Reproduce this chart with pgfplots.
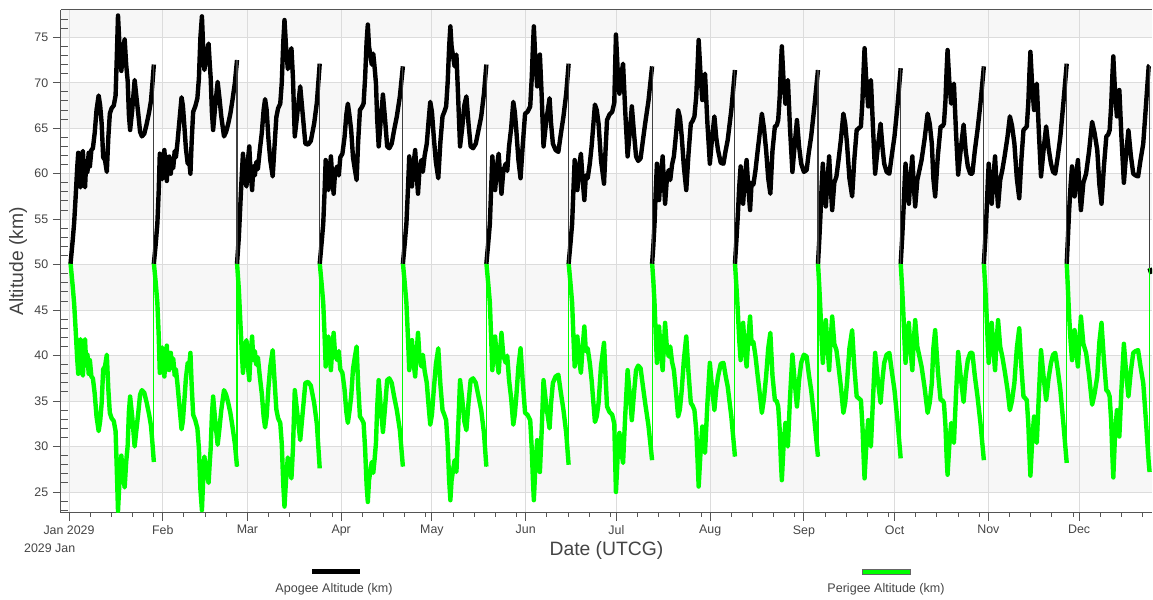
\documentclass[border=0pt]{standalone}
\usepackage{fontspec}
\setmainfont{Liberation Sans}
\usepackage{pgfplots}
\usepackage{pgfplotstable}
\pgfplotsset{compat=1.18}
\definecolor{band}{HTML}{F7F7F7}
\definecolor{gridc}{HTML}{DCDCDC}
\definecolor{axc}{HTML}{555555}
\definecolor{txt}{HTML}{444444}
\definecolor{perg}{HTML}{00FF00}

\pgfplotstableread{
day apo per
0.5 50.1 50.2
1.2 52.6 47.7
1.7 54.6 45.7
2.2 57.5 42.8
2.7 60.6 39.7
3.05 62.3 38.0
3.4 59.0 41.3
3.8 58.5 41.8
4.2 61.9 38.4
4.6 62.5 37.8
5.0 59.0 41.3
5.3 58.5 41.8
5.7 61.4 38.9
6.1 60.2 40.1
6.5 62.3 38.0
6.9 60.8 39.5
7.4 62.6 37.7
7.9 62.8 37.5
8.5 64.5 35.8
9.1 67.0 33.3
9.8 68.6 31.7
10.3 67.5 32.8
10.8 65.5 34.8
11.3 61.8 38.5
11.9 61.5 38.8
12.5 60.2 40.1
13.0 64.0 36.3
13.5 66.6 33.7
14.1 67.2 33.1
14.8 67.5 32.8
15.4 68.6 31.7
15.8 72.8 27.5
16.2 77.4 22.9
16.7 74.0 26.3
17.3 71.3 29.0
17.9 73.6 26.7
18.4 74.8 25.5
18.9 72.0 28.3
19.4 70.2 30.1
19.8 66.5 33.8
20.2 64.8 35.5
20.9 67.0 33.3
21.7 70.3 30.0
22.3 68.4 31.9
22.9 66.6 33.7
23.5 64.6 35.7
24.1 64.1 36.2
24.9 64.4 35.9
25.7 65.5 34.8
26.5 66.8 33.5
27.1 68.0 32.3
27.6 70.0 30.3
28.05 72.0 28.3
nan nan nan
28.05 50.1 50.2
28.65 52.2 48.1
29.21 54.5 45.8
29.65 58.0 42.3
30.02 62.2 38.1
30.45 60.0 40.3
30.83 59.4 40.9
31.15 61.5 38.8
31.53 62.6 37.7
31.95 60.5 39.8
32.34 59.2 41.1
32.75 61.8 38.5
33.15 61.9 38.4
33.65 60.0 40.3
34.05 61.6 38.7
34.45 60.6 39.7
34.95 62.5 37.8
35.35 61.8 38.5
35.85 63.4 36.9
36.45 65.6 34.7
37.21 68.4 31.9
37.65 67.5 32.8
38.15 65.2 35.1
38.65 62.8 37.5
39.25 61.1 39.2
39.75 61.4 38.9
40.15 60.0 40.3
40.55 63.5 36.8
41.05 66.8 33.5
41.75 67.4 32.9
42.45 68.3 32.0
42.95 70.5 29.8
43.45 75.0 25.3
43.95 77.3 23.0
44.35 74.0 26.3
44.75 71.4 28.9
45.45 73.0 27.3
46.15 74.3 26.0
46.55 72.0 28.3
46.85 70.5 29.8
47.25 66.8 33.5
47.65 64.8 35.5
48.35 67.5 32.8
49.15 70.1 30.2
49.75 68.3 32.0
50.35 66.3 34.0
51.25 64.1 36.2
51.95 64.6 35.7
52.65 65.5 34.8
53.35 66.6 33.7
54.05 68.1 32.2
54.85 70.0 30.3
55.55 72.5 27.8
nan nan nan
55.55 50.1 50.2
56.15 53.0 47.3
56.71 57.0 43.3
57.15 60.0 40.3
57.52 62.2 38.1
58.05 59.5 40.8
58.68 58.6 41.7
59.15 61.5 38.8
59.61 63.0 37.3
60.05 60.0 40.3
60.54 58.2 42.1
60.95 60.8 39.5
61.45 59.8 40.5
61.93 61.3 39.0
62.45 60.5 39.8
63.09 62.6 37.7
63.75 64.5 35.8
64.35 67.0 33.3
64.83 68.2 32.1
65.35 67.0 33.3
65.95 63.8 36.5
66.55 61.5 38.8
67.35 59.7 40.6
67.95 63.0 37.3
68.55 66.2 34.1
69.15 67.2 33.1
69.85 67.7 32.6
70.35 70.0 30.3
70.85 74.5 25.8
71.25 76.9 23.4
71.75 74.0 26.3
72.35 71.5 28.8
72.95 73.0 27.3
73.55 73.8 26.5
74.05 70.5 29.8
74.65 64.1 36.2
75.45 66.5 33.8
76.45 69.6 30.7
77.15 67.0 33.3
78.15 63.3 37.0
79.05 63.2 37.1
79.95 63.6 36.7
81.05 65.5 34.8
81.95 67.8 32.5
82.9 72.1 27.6
nan nan nan
82.9 50.1 50.2
83.5 52.3 48.0
84.06 54.5 45.8
84.5 58.0 42.3
84.87 61.5 38.8
85.3 59.5 40.8
85.8 58.2 42.1
86.2 60.5 39.8
86.6 61.9 38.4
87.0 59.8 40.5
87.5 57.8 42.5
88.0 60.3 40.0
88.7 60.8 39.5
89.2 59.8 40.5
89.7 61.8 38.5
90.4 62.2 38.1
91.1 64.0 36.3
91.7 66.5 33.8
92.2 67.7 32.6
92.7 66.5 33.8
93.3 64.8 35.5
93.9 61.8 38.5
94.5 60.5 39.8
95.1 59.3 41.0
95.6 63.5 36.8
96.2 67.0 33.3
96.8 67.3 33.0
97.4 67.7 32.6
97.9 70.5 29.8
98.4 74.5 25.8
98.8 76.4 23.9
99.2 74.0 26.3
99.7 72.9 27.4
100.1 72.0 28.3
100.6 73.2 27.1
101.1 71.5 28.8
101.5 69.9 30.4
101.9 66.0 34.3
102.4 63.0 37.3
103.1 66.0 34.3
103.8 68.7 31.6
104.5 66.0 34.3
105.2 63.0 37.3
105.9 62.8 37.5
106.7 63.3 37.0
107.5 64.8 35.5
108.4 66.3 34.0
109.4 68.5 31.8
110.4 71.8 27.8
nan nan nan
110.4 50.1 50.2
111.0 52.3 48.0
111.56 54.5 45.8
112.1 58.5 41.8
112.5 61.9 38.4
113.0 59.8 40.5
113.4 58.6 41.7
113.9 61.0 39.3
114.46 62.6 37.7
114.9 60.2 40.1
115.4 57.8 42.5
115.9 60.5 39.8
116.5 61.5 38.8
117.0 60.2 40.1
117.6 62.0 38.3
118.3 63.3 37.0
118.9 65.8 34.5
119.45 67.9 32.4
120.0 66.8 33.5
120.6 64.1 36.2
121.3 61.3 39.0
122.1 59.5 40.8
122.8 63.5 36.8
123.5 66.3 34.0
124.1 66.8 33.5
124.7 67.4 32.9
125.2 70.0 30.3
125.7 74.0 26.3
126.1 76.2 24.1
126.5 74.0 26.3
127.0 72.9 27.4
127.5 71.8 28.5
128.1 73.1 27.2
128.6 69.0 31.3
129.3 63.0 37.3
130.0 65.0 35.3
130.7 67.5 32.8
131.4 68.5 31.8
132.1 65.5 34.8
132.8 63.0 37.3
133.6 62.8 37.5
134.5 63.3 37.0
135.4 64.8 35.5
136.3 66.3 34.0
137.2 68.8 31.5
138.0 72.0 27.8
nan nan nan
138.0 50.1 50.2
138.6 52.3 48.0
139.16 54.5 45.8
139.6 58.5 41.8
139.97 61.9 38.4
140.4 59.8 40.5
140.9 58.2 42.1
141.5 60.8 39.5
142.06 62.2 38.1
142.5 60.0 40.3
143.0 57.8 42.5
143.6 60.3 40.0
144.4 61.1 39.2
144.9 60.3 40.0
145.5 63.0 37.3
146.2 65.0 35.3
146.9 67.9 32.4
147.4 66.8 33.5
147.9 64.8 35.5
148.6 61.5 38.8
149.3 59.5 40.8
150.0 63.0 37.3
150.8 66.6 33.7
151.6 66.8 33.5
152.5 67.4 32.9
153.0 70.5 29.8
153.4 74.0 26.3
153.7 76.2 24.1
154.2 72.5 27.8
154.8 69.6 30.7
155.3 71.5 28.8
155.7 73.1 27.2
156.3 68.5 31.8
156.9 63.0 37.3
157.8 65.8 34.5
158.9 68.3 32.0
159.4 65.5 34.8
160.0 63.3 37.0
160.9 62.6 37.7
161.8 62.4 37.9
162.6 64.3 36.0
163.5 66.3 34.0
164.4 68.8 31.5
165.2 72.1 28.0
nan nan nan
165.2 50.1 50.2
165.8 52.3 48.0
166.36 54.5 45.8
166.8 58.3 42.0
167.2 61.5 38.8
167.7 59.5 40.8
168.1 58.2 42.1
168.7 60.8 39.5
169.26 62.2 38.1
169.8 59.5 40.8
170.4 57.1 43.2
170.9 59.8 40.5
171.5 59.5 40.8
172.2 61.1 39.2
172.8 63.0 37.3
173.4 65.5 34.8
173.9 67.6 32.7
174.5 67.0 33.3
175.1 65.5 34.8
175.9 61.5 38.8
176.9 58.9 41.4
177.4 62.5 37.8
177.9 65.9 34.4
178.7 66.5 33.8
179.6 66.8 33.5
180.3 67.8 32.5
180.6 72.0 28.3
180.85 75.3 25.0
181.4 71.5 28.8
182.0 68.8 31.5
182.6 70.8 29.5
183.2 72.1 28.2
183.9 67.0 33.3
184.7 61.9 38.4
185.4 64.5 35.8
186.1 67.4 32.9
186.8 64.5 35.8
187.5 61.9 38.4
188.2 61.4 38.9
189.0 61.7 38.6
189.7 63.5 36.8
190.5 65.5 34.8
191.6 68.0 32.3
192.8 71.8 28.5
nan nan nan
192.8 50.1 50.2
193.2 52.0 48.3
193.6 54.5 45.8
194.0 58.0 42.3
194.4 61.1 39.2
194.8 58.8 41.5
195.1 57.1 43.2
195.7 60.0 40.3
196.3 61.9 38.4
196.7 59.0 41.3
197.1 56.7 43.6
197.7 59.5 40.8
198.3 60.4 39.9
198.8 59.3 41.0
199.4 61.0 39.3
200.0 61.9 38.4
200.7 64.3 36.0
201.4 67.0 33.3
202.0 66.2 34.1
202.6 64.1 36.2
203.3 60.8 39.5
204.1 58.2 42.1
204.8 62.0 38.3
205.6 65.5 34.8
206.2 65.8 34.5
206.8 66.3 34.0
207.4 68.5 31.8
207.8 71.5 28.8
208.2 74.7 25.6
208.8 71.0 29.3
209.4 68.1 32.2
209.8 69.8 30.5
210.3 71.0 29.3
211.1 65.5 34.8
211.9 61.1 39.2
212.6 63.8 36.5
213.4 66.3 34.0
214.0 64.0 36.3
214.6 62.6 37.7
215.5 61.2 39.1
216.4 61.1 39.2
217.1 62.5 37.8
217.8 63.7 36.6
219.0 67.0 33.3
220.2 71.4 28.9
nan nan nan
220.2 50.1 50.2
220.7 52.8 47.5
221.13 55.3 45.0
221.6 58.5 41.8
222.07 60.8 39.5
222.5 58.2 42.1
222.9 56.7 43.6
223.5 59.8 40.5
224.05 61.5 38.8
224.6 58.5 41.8
225.2 56.0 44.3
225.7 59.0 41.3
226.3 58.8 41.5
227.0 60.4 39.9
227.7 62.5 37.8
228.4 64.5 35.8
229.1 66.6 33.7
229.8 65.0 35.3
230.5 62.6 37.7
231.2 59.5 40.8
231.9 57.8 42.5
232.6 62.5 37.8
233.4 65.2 35.1
234.0 65.3 35.0
234.5 65.9 34.4
235.0 68.5 31.8
235.4 72.0 28.3
235.7 74.0 26.3
236.3 70.0 30.3
236.9 67.7 32.6
237.3 69.5 30.8
237.7 70.3 30.0
238.4 65.0 35.3
239.2 60.2 40.1
239.9 63.0 37.3
240.7 65.9 34.4
241.4 63.0 37.3
242.1 61.1 39.2
243.0 60.2 40.1
243.9 60.4 39.9
244.6 62.3 38.0
245.4 64.1 36.2
246.5 67.5 32.8
247.65 71.4 28.9
nan nan nan
247.65 50.1 50.2
248.05 52.5 47.8
248.45 55.3 45.0
248.85 58.5 41.8
249.25 61.1 39.2
249.75 58.3 42.0
250.25 56.4 43.9
250.85 59.5 40.8
251.35 61.9 38.4
251.85 58.5 41.8
252.35 56.0 44.3
253.05 59.0 41.3
253.75 59.7 40.6
254.45 61.5 38.8
255.25 63.8 36.5
256.05 66.6 33.7
256.65 65.5 34.8
257.25 63.3 37.0
258.05 59.5 40.8
258.95 57.5 42.8
259.65 61.5 38.8
260.45 64.8 35.5
261.15 65.0 35.3
261.85 65.2 35.1
262.35 68.0 32.3
262.75 71.5 28.8
263.05 73.8 26.5
263.65 70.0 30.3
264.25 67.4 32.9
264.65 69.2 31.1
265.15 70.3 30.0
265.85 65.0 35.3
266.55 60.0 40.3
267.45 63.0 37.3
268.35 65.5 34.8
268.95 63.0 37.3
269.55 61.1 39.2
270.35 60.2 40.1
271.25 60.0 40.3
272.05 62.0 38.3
272.95 64.1 36.2
273.95 67.5 32.8
275.0 71.6 28.7
nan nan nan
275.0 50.1 50.2
275.5 53.0 47.3
275.93 56.0 44.3
276.3 59.0 41.3
276.6 61.1 39.2
277.2 58.5 41.8
277.7 56.7 43.6
278.3 59.8 40.5
278.85 61.9 38.4
279.3 58.8 41.5
279.8 56.4 43.9
280.5 59.3 41.0
281.2 60.4 39.9
281.9 61.5 38.8
282.9 63.8 36.5
283.9 66.6 33.7
284.6 65.5 34.8
285.3 63.3 37.0
285.8 59.5 40.8
286.4 57.5 42.8
287.3 62.0 38.3
288.2 65.2 35.1
288.8 65.2 35.1
289.3 65.5 34.8
289.8 68.0 32.3
290.2 71.5 28.8
290.5 73.6 26.9
291.1 70.0 30.3
291.7 67.7 32.6
292.1 69.0 31.3
292.6 69.9 30.4
293.3 64.5 35.8
294.0 59.9 40.4
294.9 62.8 37.5
295.8 65.4 34.9
296.5 62.5 37.8
297.2 60.8 39.5
298.0 60.0 40.3
298.7 60.0 40.3
299.5 62.5 37.8
300.4 64.8 35.5
301.4 67.8 32.5
302.5 71.8 28.5
nan nan nan
302.5 50.1 50.2
303.0 53.0 47.3
303.43 56.0 44.3
303.8 59.0 41.3
304.1 61.1 39.2
304.6 58.5 41.8
305.1 56.7 43.6
305.7 59.8 40.5
306.2 61.9 38.4
306.7 58.8 41.5
307.2 56.4 43.9
307.9 59.3 41.0
308.6 60.4 39.9
309.4 62.0 38.3
310.3 64.0 36.3
311.1 66.3 34.0
311.8 65.3 35.0
312.6 63.3 37.0
313.4 59.5 40.8
314.2 57.3 43.0
314.9 61.5 38.8
315.6 64.8 35.5
316.2 65.0 35.3
316.7 65.2 35.1
317.2 67.8 32.5
317.6 71.3 29.0
317.9 73.4 26.8
318.5 69.5 30.8
319.1 67.0 33.3
319.5 68.8 31.5
320.0 69.9 30.4
320.7 64.5 35.8
321.4 59.7 40.6
322.3 62.8 37.5
323.1 65.2 35.1
323.9 62.8 37.5
324.7 61.1 39.2
325.4 60.2 40.1
326.1 60.0 40.3
327.0 62.0 38.3
327.8 64.1 36.2
328.8 67.8 32.5
329.9 72.1 28.2
nan nan nan
329.9 50.1 50.2
330.3 53.0 47.3
330.7 56.0 44.3
331.2 58.8 41.5
331.65 60.8 39.5
332.1 58.8 41.5
332.5 57.5 42.8
333.1 60.0 40.3
333.6 61.5 38.8
334.1 58.5 41.8
334.6 56.0 44.3
335.4 59.0 41.3
336.3 60.0 40.3
337.3 62.5 37.8
338.3 65.7 34.6
339.1 64.5 35.8
340.0 62.6 37.7
340.7 58.8 41.5
341.4 56.7 43.6
342.2 60.8 39.5
343.0 64.1 36.2
343.6 64.3 36.0
344.1 64.8 35.5
344.6 67.5 32.8
345.0 70.8 29.0
345.3 72.9 26.6
345.9 68.8 31.5
346.5 66.3 34.0
346.9 68.2 32.1
347.3 69.2 31.1
348.0 64.0 36.3
348.8 59.0 41.3
349.5 62.0 38.3
350.3 64.8 35.5
351.1 62.0 38.3
351.9 60.0 40.3
352.7 59.8 40.5
353.5 59.7 40.6
354.3 61.5 38.8
355.2 63.3 37.0
356.1 67.5 32.8
357.0 71.8 28.3
357.3 71.9 27.2
nan nan nan
357.3 49.6 49.6
357.9 49.0 49.0
}\orbit

\begin{document}
\begin{tikzpicture}
\begin{axis}[
  set layers,
  at={(0pt,0pt)}, anchor=south west,
  scale only axis, width=818.25pt, height=377pt,
  xmin=-2.65, xmax=358.1, ymin=22.73, ymax=78.0,
  axis x line*=bottom, axis y line*=left,
  axis line style={draw=axc, line width=0.75pt},
  xtick={0,31,59,90,120,151,181,212,243,273,304,334},
  xticklabels={Jan 2029,Feb,Mar,Apr,May,Jun,Jul,Aug,Sep,Oct,Nov,Dec},
  ytick={25,30,...,75},
  tick align=outside, major tick length=6pt,
  tick style={draw=axc, line width=0.75pt},
  extra x ticks={7,14,21,28,38,45,52,66,73,80,87,97,104,111,118,127,134,141,148,158,165,172,179,188,195,202,209,219,226,233,240,250,257,264,271,280,287,294,301,311,318,325,332,341,348,355},
  extra x tick labels={},
  extra x tick style={grid=none, tick align=outside, major tick length=3pt},
  extra y ticks={23,24,26,27,28,29,31,32,33,34,36,37,38,39,41,42,43,44,46,47,48,49,51,52,53,54,56,57,58,59,61,62,63,64,66,67,68,69,71,72,73,74,76,77},
  extra y tick labels={},
  extra y tick style={grid=none, tick align=inside, major tick length=5.5pt},
  grid=major, major grid style={draw=gridc, line width=0.75pt},
  ticklabel style={font=\fontsize{9.3}{10}\selectfont, text=txt},
  /pgf/number format/assume math mode=true,
  unbounded coords=jump,
]
\begin{pgfonlayer}{axis background}
\fill[band] (axis cs:-2.65,25) rectangle (axis cs:358.1,30);
\fill[band] (axis cs:-2.65,35) rectangle (axis cs:358.1,40);
\fill[band] (axis cs:-2.65,45) rectangle (axis cs:358.1,50);
\fill[band] (axis cs:-2.65,55) rectangle (axis cs:358.1,60);
\fill[band] (axis cs:-2.65,65) rectangle (axis cs:358.1,70);
\fill[band] (axis cs:-2.65,75) rectangle (axis cs:358.1,78);
\end{pgfonlayer}
\addplot[perg, line width=3.3pt, line join=round] table[x=day, y=per] {\orbit};
\addplot[black, line width=3.3pt, line join=round] table[x=day, y=apo] {\orbit};
\addplot[perg, line width=0.8pt] coordinates {
(28.05,28.3)(28.05,50.2)(28.05,nan)
(55.55,27.8)(55.55,50.2)(55.55,nan)
(82.9,27.6)(82.9,50.2)(82.9,nan)
(110.4,27.8)(110.4,50.2)(110.4,nan)
(138.0,27.8)(138.0,50.2)(138.0,nan)
(165.2,28.0)(165.2,50.2)(165.2,nan)
(192.8,28.5)(192.8,50.2)(192.8,nan)
(220.2,28.9)(220.2,50.2)(220.2,nan)
(247.65,28.9)(247.65,50.2)(247.65,nan)
(275.0,28.7)(275.0,50.2)(275.0,nan)
(302.5,28.5)(302.5,50.2)(302.5,nan)
(329.9,28.2)(329.9,50.2)(329.9,nan)
(357.3,27.2)(357.3,49.6)};
\addplot[black!75, line width=0.8pt] coordinates {
(28.05,72.0)(28.05,50.1)(28.05,nan)
(55.55,72.5)(55.55,50.1)(55.55,nan)
(82.9,72.1)(82.9,50.1)(82.9,nan)
(110.4,71.8)(110.4,50.1)(110.4,nan)
(138.0,72.0)(138.0,50.1)(138.0,nan)
(165.2,72.1)(165.2,50.1)(165.2,nan)
(192.8,71.8)(192.8,50.1)(192.8,nan)
(220.2,71.4)(220.2,50.1)(220.2,nan)
(247.65,71.4)(247.65,50.1)(247.65,nan)
(275.0,71.6)(275.0,50.1)(275.0,nan)
(302.5,71.8)(302.5,50.1)(302.5,nan)
(329.9,72.1)(329.9,50.1)(329.9,nan)
(357.3,71.9)(357.3,49.6)};
\draw[axc, line width=0.75pt] (rel axis cs:0,1) -- (rel axis cs:1,1);
\end{axis}
\node[font=\fontsize{9.3}{10}\selectfont, text=txt] at (-8.5pt,-26.5pt) {2029 Jan};
\node[rotate=90, font=\fontsize{14.5}{16}\selectfont, text=txt] at (-32.25pt,188.5pt) {Altitude (km)};
\node[font=\fontsize{14.5}{16}\selectfont, text=txt] at (409.1pt,-28.7pt) {Date (UTCG)};
\fill[black] (188.25pt,-46.3pt) rectangle (224.25pt,-42.6pt);
\node[font=\fontsize{9.4}{11}\selectfont, text=txt] at (204.75pt,-57.2pt) {Apogee Altitude (km)};
\draw[fill=perg, draw=black!60, line width=0.5pt] (600.75pt,-46.3pt) rectangle (636.75pt,-42.6pt);
\node[font=\fontsize{9.4}{11}\selectfont, text=txt] at (618.75pt,-57.2pt) {Perigee Altitude (km)};
\path (-45.75pt,-63.25pt) rectangle (819pt,384.5pt);
\end{tikzpicture}
\end{document}
